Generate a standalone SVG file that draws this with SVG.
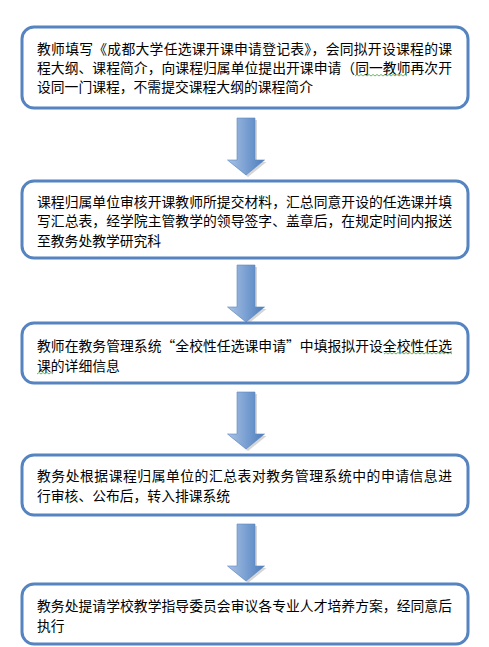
<svg xmlns="http://www.w3.org/2000/svg" width="489" height="647" viewBox="0 0 489 647">
<style>
.box{fill:#ffffff;stroke:#5584c0;stroke-width:3}
.t{font-family:"Noto Sans CJK SC","Noto Sans",sans-serif;font-size:13.8px;fill:#000}
.sq{fill:none;stroke:#3fa83f;stroke-width:0.8}
.sh{fill:#8a8a8a;opacity:0.35}
</style>
<defs>
<linearGradient id="ag" x1="0" y1="0" x2="1" y2="0">
<stop offset="0" stop-color="#a9c2e4"/>
<stop offset="0.5" stop-color="#7aa0d2"/>
<stop offset="1" stop-color="#4c7dbd"/>
</linearGradient>
<path id="arw" d="M-9,0 H9 V42 H18.5 L0,57 L-18.5,42 H-9 Z"/>
</defs>
<rect width="489" height="647" fill="#ffffff"/>
<g id="connectors">
<g transform="translate(246,118)"><use href="#arw" class="sh" transform="translate(2,2)"/><use href="#arw" fill="url(#ag)" stroke="#5b87c2" stroke-width="0.6"/></g>
<g transform="translate(246,265)"><use href="#arw" class="sh" transform="translate(2,2)"/><use href="#arw" fill="url(#ag)" stroke="#5b87c2" stroke-width="0.6"/></g>
<g transform="translate(246,392)"><use href="#arw" class="sh" transform="translate(2,2)"/><use href="#arw" fill="url(#ag)" stroke="#5b87c2" stroke-width="0.6"/></g>
<g transform="translate(246,524)"><use href="#arw" class="sh" transform="translate(2,2)"/><use href="#arw" fill="url(#ag)" stroke="#5b87c2" stroke-width="0.6"/></g>
</g>
<g id="node1">
<rect class="box" x="22" y="27" width="446" height="81" rx="12"/>
<text class="t" x="37" y="53.5" textLength="415" lengthAdjust="spacing">教师填写《成都大学任选课开课申请登记表》，会同拟开设课程的课</text>
<text class="t" x="37" y="72.5" textLength="415" lengthAdjust="spacing">程大纲、课程简介，向课程归属单位提出开课申请（同一教师再次开</text>
<text class="t" x="37" y="91.5">设同一门课程，不需提交课程大纲的课程简介</text>
<path class="sq" d="M355,76 l2,-1.5 2,1.5 2,-1.5 2,1.5 2,-1.5 2,1.5 2,-1.5 2,1.5 2,-1.5 2,1.5 2,-1.5 2,1.5 2,-1.5 2,1.5 2,-1.5 2,1.5 2,-1.5 2,1.5 2,-1.5 2,1.5 2,-1.5 2,1.5 2,-1.5 2,1.5 2,-1.5 2,1.5"/>
</g>
<g id="node2">
<rect class="box" x="22" y="181" width="446" height="77" rx="12"/>
<text class="t" x="37" y="206.5" textLength="415" lengthAdjust="spacing">课程归属单位审核开课教师所提交材料，汇总同意开设的任选课并填</text>
<text class="t" x="37" y="226" textLength="415" lengthAdjust="spacing">写汇总表，经学院主管教学的领导签字、盖章后，在规定时间内报送</text>
<text class="t" x="37" y="245.5">至教务处教学研究科</text>
</g>
<g id="node3">
<rect class="box" x="22" y="323" width="446" height="60" rx="12"/>
<text class="t" x="37" y="350.5" textLength="415" lengthAdjust="spacing">教师在教务管理系统“全校性任选课申请”中填报拟开设全校性任选</text>
<text class="t" x="37" y="370.5">课的详细信息</text>
<path class="sq" d="M384,354 l2,-1.5 2,1.5 2,-1.5 2,1.5 2,-1.5 2,1.5 2,-1.5 2,1.5 2,-1.5 2,1.5 2,-1.5 2,1.5 2,-1.5 2,1.5 2,-1.5 2,1.5 2,-1.5 2,1.5 2,-1.5 2,1.5 2,-1.5 2,1.5 2,-1.5 2,1.5 2,-1.5 2,1.5 2,-1.5 2,1.5 2,-1.5 2,1.5 2,-1.5 2,1.5 2,-1.5 2,1.5"/>
<path class="sq" d="M37,374 l2,-1.5 2,1.5 2,-1.5 2,1.5 2,-1.5 2,1.5 2,-1.5 2,1.5"/>
</g>
<g id="node4">
<rect class="box" x="22" y="455" width="446" height="60" rx="12"/>
<text class="t" x="37" y="480.5" textLength="415" lengthAdjust="spacing">教务处根据课程归属单位的汇总表对教务管理系统中的申请信息进</text>
<text class="t" x="37" y="500.5">行审核、公布后，转入排课系统</text>
</g>
<g id="node5">
<rect class="box" x="22" y="584" width="446" height="60" rx="12"/>
<text class="t" x="37" y="610.5" textLength="415" lengthAdjust="spacing">教务处提请学校教学指导委员会审议各专业人才培养方案，经同意后</text>
<text class="t" x="37" y="630.5">执行</text>
</g>
</svg>
